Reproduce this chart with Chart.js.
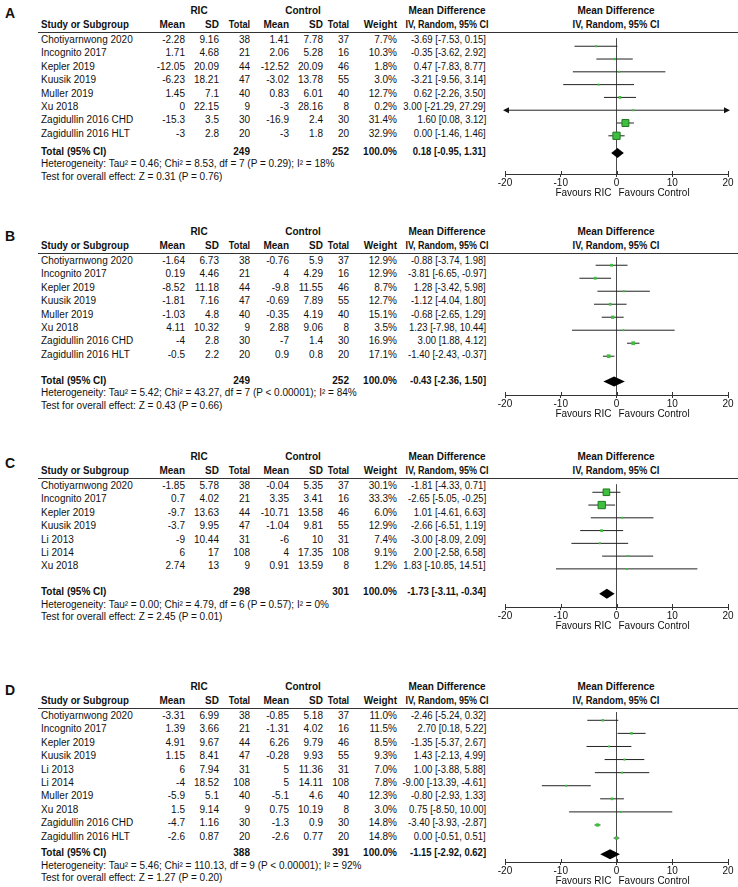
<!DOCTYPE html>
<html>
<head>
<meta charset="utf-8">
<script src="https://cdn.jsdelivr.net/npm/chart.js@4.4.1/dist/chart.umd.min.js"></script>
<style>
    body { margin: 0; background: #fff; }
    #page { position: relative; width: 738px; height: 887px; overflow: hidden; font-family: "Liberation Sans", Arial, sans-serif; font-size: 10px; color: #111; }
    .t { position: absolute; white-space: nowrap; line-height: 12px; height: 12px; }
    .b { font-weight: bold; }
    .letter { position: absolute; font-weight: bold; font-size: 14px; line-height: 14px; }
    .rule { position: absolute; height: 1px; background: #333; }
    canvas { position: absolute; }
</style>
</head>
<body>
<div id="page"></div>
<script>
// ---- Panel A ----
const studiesA = ['Chotiyarnwong 2020', 'Incognito 2017', 'Kepler 2019', 'Kuusik 2019', 'Muller 2019', 'Xu 2018', 'Zagidullin 2016 CHD', 'Zagidullin 2016 HLT'];
const ricMeanA = [-2.28, 1.71, -12.05, -6.23, 1.45, 0, -15.3, -3];
const ricSdA = [9.16, 4.68, 20.09, 18.21, 7.1, 22.15, 3.5, 2.8];
const ricNA = [38, 21, 44, 47, 40, 9, 30, 20];
const ctlMeanA = [1.41, 2.06, -12.52, -3.02, 0.83, -3, -16.9, -3];
const ctlSdA = [7.78, 5.28, 20.09, 13.78, 6.01, 28.16, 2.4, 1.8];
const ctlNA = [37, 16, 46, 55, 40, 8, 30, 20];
const weightA = [7.7, 10.3, 1.8, 3.0, 12.7, 0.2, 31.4, 32.9];
const mdA = [-3.69, -0.35, 0.47, -3.21, 0.62, 3.00, 1.60, 0.00];
const loA = [-7.53, -3.62, -7.83, -9.56, -2.26, -21.29, 0.08, -1.46];
const hiA = [0.15, 2.92, 8.77, 3.14, 3.50, 27.29, 3.12, 1.46];
const pooledA = [0.18, -0.95, 1.31];
const totalsA = [249, 252];

// ---- Panel B ----
const studiesB = studiesA;
const ricMeanB = [-1.64, 0.19, -8.52, -1.81, -1.03, 4.11, -4, -0.5];
const ricSdB = [6.73, 4.46, 11.18, 7.16, 4.8, 10.32, 2.8, 2.2];
const ricNB = [38, 21, 44, 47, 40, 9, 30, 20];
const ctlMeanB = [-0.76, 4, -9.8, -0.69, -0.35, 2.88, -7, 0.9];
const ctlSdB = [5.9, 4.29, 11.55, 7.89, 4.19, 9.06, 1.4, 0.8];
const ctlNB = [37, 16, 46, 55, 40, 8, 30, 20];
const weightB = [12.9, 12.9, 8.7, 12.7, 15.1, 3.5, 16.9, 17.1];
const mdB = [-0.88, -3.81, 1.28, -1.12, -0.68, 1.23, 3.00, -1.40];
const loB = [-3.74, -6.65, -3.42, -4.04, -2.65, -7.98, 1.88, -2.43];
const hiB = [1.98, -0.97, 5.98, 1.80, 1.29, 10.44, 4.12, -0.37];
const pooledB = [-0.43, -2.36, 1.50];
const totalsB = [249, 252];

// ---- Panel C ----
const studiesC = ['Chotiyarnwong 2020', 'Incognito 2017', 'Kepler 2019', 'Kuusik 2019', 'Li 2013', 'Li 2014', 'Xu 2018'];
const ricMeanC = [-1.85, 0.7, -9.7, -3.7, -9, 6, 2.74];
const ricSdC = [5.78, 4.02, 13.63, 9.95, 10.44, 17, 13];
const ricNC = [38, 21, 44, 47, 31, 108, 9];
const ctlMeanC = [-0.04, 3.35, -10.71, -1.04, -6, 4, 0.91];
const ctlSdC = [5.35, 3.41, 13.58, 9.81, 10, 17.35, 13.59];
const ctlNC = [37, 16, 46, 55, 31, 108, 8];
const weightC = [30.1, 33.3, 6.0, 12.9, 7.4, 9.1, 1.2];
const mdC = [-1.81, -2.65, 1.01, -2.66, -3.00, 2.00, 1.83];
const loC = [-4.33, -5.05, -4.61, -6.51, -8.09, -2.58, -10.85];
const hiC = [0.71, -0.25, 6.63, 1.19, 2.09, 6.58, 14.51];
const pooledC = [-1.73, -3.11, -0.34];
const totalsC = [298, 301];

// ---- Panel D ----
const studiesD = ['Chotiyarnwong 2020', 'Incognito 2017', 'Kepler 2019', 'Kuusik 2019', 'Li 2013', 'Li 2014', 'Muller 2019', 'Xu 2018', 'Zagidullin 2016 CHD', 'Zagidullin 2016 HLT'];
const ricMeanD = [-3.31, 1.39, 4.91, 1.15, 6, -4, -5.9, 1.5, -4.7, -2.6];
const ricSdD = [6.99, 3.66, 9.67, 8.41, 7.94, 18.52, 5.1, 9.14, 1.16, 0.87];
const ricND = [38, 21, 44, 47, 31, 108, 40, 9, 30, 20];
const ctlMeanD = [-0.85, -1.31, 6.26, -0.28, 5, 5, -5.1, 0.75, -1.3, -2.6];
const ctlSdD = [5.18, 4.02, 9.79, 9.93, 11.36, 14.11, 4.6, 10.19, 0.9, 0.77];
const ctlND = [37, 16, 46, 55, 31, 108, 40, 8, 30, 20];
const weightD = [11.0, 11.5, 8.5, 9.3, 7.0, 7.8, 12.3, 3.0, 14.8, 14.8];
const mdD = [-2.46, 2.70, -1.35, 1.43, 1.00, -9.00, -0.80, 0.75, -3.40, 0.00];
const loD = [-5.24, 0.18, -5.37, -2.13, -3.88, -13.39, -2.93, -8.50, -3.93, -0.51];
const hiD = [0.32, 5.22, 2.67, 4.99, 5.88, -4.61, 1.33, 10.00, -2.87, 0.51];
const pooledD = [-1.15, -2.92, 0.62];
const totalsD = [388, 391];

const xTicks = [-20, -10, 0, 10, 20];

const panels = [
    { letter: 'A', top: 11, letterY: 13, totalGap: 18, axisGap: 22, studies: studiesA, ricMean: ricMeanA, ricSd: ricSdA, ricN: ricNA, ctlMean: ctlMeanA, ctlSd: ctlSdA, ctlN: ctlNA, weight: weightA, md: mdA, lo: loA, hi: hiA, pooled: pooledA, totals: totalsA,
      het: 'Heterogeneity: Tau² = 0.46; Chi² = 8.53, df = 7 (P = 0.29); I² = 18%', test: 'Test for overall effect: Z = 0.31 (P = 0.76)' },
    { letter: 'B', top: 232, letterY: 236, totalGap: 26, axisGap: 14, studies: studiesB, ricMean: ricMeanB, ricSd: ricSdB, ricN: ricNB, ctlMean: ctlMeanB, ctlSd: ctlSdB, ctlN: ctlNB, weight: weightB, md: mdB, lo: loB, hi: hiB, pooled: pooledB, totals: totalsB,
      het: 'Heterogeneity: Tau² = 5.42; Chi² = 43.27, df = 7 (P < 0.00001); I² = 84%', test: 'Test for overall effect: Z = 0.43 (P = 0.66)' },
    { letter: 'C', top: 457, letterY: 463, totalGap: 26, axisGap: 14, studies: studiesC, ricMean: ricMeanC, ricSd: ricSdC, ricN: ricNC, ctlMean: ctlMeanC, ctlSd: ctlSdC, ctlN: ctlNC, weight: weightC, md: mdC, lo: loC, hi: hiC, pooled: pooledC, totals: totalsC,
      het: 'Heterogeneity: Tau² = 0.00; Chi² = 4.79, df = 6 (P = 0.57); I² = 0%', test: 'Test for overall effect: Z = 2.45 (P = 0.01)' },
    { letter: 'D', top: 687, letterY: 690, totalGap: 16.5, axisGap: 8, studies: studiesD, ricMean: ricMeanD, ricSd: ricSdD, ricN: ricND, ctlMean: ctlMeanD, ctlSd: ctlSdD, ctlN: ctlND, weight: weightD, md: mdD, lo: loD, hi: hiD, pooled: pooledD, totals: totalsD,
      het: 'Heterogeneity: Tau² = 5.46; Chi² = 110.13, df = 9 (P < 0.00001); I² = 92%', test: 'Test for overall effect: Z = 1.27 (P = 0.20)' }
];

const PITCH = 13.4;      // row spacing
const FIRST = 29;        // header row 1 -> first study row
const LINE = 20.5;       // header row 1 -> rule
const FONT = '"Liberation Sans", Arial, sans-serif';
const page = document.getElementById('page');

function txt(s, x, y, align, bold, sx) {
    const el = document.createElement('div');
    el.className = 't' + (bold ? ' b' : '');
    el.textContent = s;
    el.style.top = (y - 6) + 'px';
    let tf = '';
    if (align === 'right') { el.style.right = (738 - x) + 'px'; el.style.transformOrigin = 'right center'; }
    else if (align === 'center') { el.style.left = x + 'px'; tf = 'translateX(-50%) '; el.style.transformOrigin = 'left center'; }
    else { el.style.left = x + 'px'; el.style.transformOrigin = 'left center'; }
    if (sx) {
        if (align === 'center') { el.style.transformOrigin = '0 50%'; tf = `scaleX(${sx}) translateX(-50%)`; }
        else tf += `scaleX(${sx})`;
    }
    if (tf) el.style.transform = tf;
    page.appendChild(el);
}

const ci = (m, l, h) => `${m.toFixed(2)} [${l.toFixed(2)}, ${h.toFixed(2)}]`;

function forestPlugin(p, totalRow) {
    return {
        id: 'forestExtras',
        afterDatasetsDraw(chart) {
            const { ctx, chartArea: a, scales: { x, y } } = chart;
            ctx.save();
            ctx.fillStyle = '#111';
            // arrows where the CI runs off the scale
            p.lo.forEach((lo, i) => {
                const yy = y.getPixelForValue(i);
                if (lo < x.min) {
                    ctx.beginPath(); ctx.moveTo(a.left - 2, yy); ctx.lineTo(a.left + 4, yy - 3); ctx.lineTo(a.left + 4, yy + 3); ctx.closePath(); ctx.fill();
                }
                if (p.hi[i] > x.max) {
                    ctx.beginPath(); ctx.moveTo(a.right + 2, yy); ctx.lineTo(a.right - 4, yy - 3); ctx.lineTo(a.right - 4, yy + 3); ctx.closePath(); ctx.fill();
                }
            });
            // pooled diamond
            const [est, plo, phi] = p.pooled;
            const yy = y.getPixelForValue(totalRow);
            ctx.fillStyle = '#000';
            ctx.beginPath();
            ctx.moveTo(x.getPixelForValue(plo), yy);
            ctx.lineTo(x.getPixelForValue(est), yy - 5);
            ctx.lineTo(x.getPixelForValue(phi), yy);
            ctx.lineTo(x.getPixelForValue(est), yy + 5);
            ctx.closePath();
            ctx.fill();
            // small upward ticks on the axis
            ctx.strokeStyle = '#333';
            ctx.lineWidth = 1;
            xTicks.forEach(v => {
                const px = Math.round(x.getPixelForValue(v)) + 0.5;
                ctx.beginPath(); ctx.moveTo(px, a.bottom - 3); ctx.lineTo(px, a.bottom); ctx.stroke();
            });
            // favours labels
            const x0 = x.getPixelForValue(0);
            ctx.font = '10px ' + FONT;
            ctx.fillStyle = '#111';
            ctx.textBaseline = 'middle';
            ctx.textAlign = 'right';
            ctx.fillText('Favours RIC', x0 - 5, a.bottom + 19);
            ctx.textAlign = 'left';
            ctx.fillText('Favours Control', x0 + 2, a.bottom + 19);
            ctx.restore();
        }
    };
}

function buildPanel(p) {
    const t = p.top;
    const n = p.studies.length;
    const rowY = i => t + FIRST + i * PITCH;
    const totalY = rowY(n - 1) + p.totalGap;

    const L = document.createElement('div');
    L.className = 'letter';
    L.textContent = p.letter;
    L.style.left = '5px';
    L.style.top = (p.letterY - 7) + 'px';
    page.appendChild(L);

    // header rows
    txt('RIC', 199, t, 'center', true);
    txt('Control', 303, t, 'center', true);
    txt('Mean Difference', 447, t, 'center', true);
    txt('Mean Difference', 616, t, 'center', true);
    const h2 = t + 14;
    txt('Study or Subgroup', 41, h2, 'left', true, 0.97);
    txt('Mean', 185, h2, 'right', true);
    txt('SD', 219, h2, 'right', true);
    txt('Total', 250, h2, 'right', true, 0.92);
    txt('Mean', 289, h2, 'right', true);
    txt('SD', 323, h2, 'right', true);
    txt('Total', 349, h2, 'right', true, 0.92);
    txt('Weight', 397, h2, 'right', true);
    txt('IV, Random, 95% CI', 447, h2, 'center', true, 0.9);
    txt('IV, Random, 95% CI', 616, h2, 'center', true, 0.94);

    const rule = document.createElement('div');
    rule.className = 'rule';
    rule.style.left = '38px';
    rule.style.width = '700px';
    rule.style.top = Math.round(t + LINE) + 'px';
    page.appendChild(rule);

    p.studies.forEach((s, i) => {
        const y = rowY(i);
        txt(s, 41, y, 'left');
        txt(String(p.ricMean[i]), 185, y, 'right');
        txt(String(p.ricSd[i]), 219, y, 'right');
        txt(String(p.ricN[i]), 250, y, 'right');
        txt(String(p.ctlMean[i]), 289, y, 'right');
        txt(String(p.ctlSd[i]), 323, y, 'right');
        txt(String(p.ctlN[i]), 349, y, 'right');
        txt(p.weight[i].toFixed(1) + '%', 397, y, 'right');
        txt(ci(p.md[i], p.lo[i], p.hi[i]), 486, y, 'right', false, 0.95);
    });

    txt('Total (95% CI)', 41, totalY, 'left', true);
    txt(String(p.totals[0]), 250, totalY, 'right', true);
    txt(String(p.totals[1]), 349, totalY, 'right', true);
    txt('100.0%', 397, totalY, 'right', true);
    txt(ci(p.pooled[0], p.pooled[1], p.pooled[2]), 486, totalY, 'right', true, 0.95);
    txt(p.het, 41, totalY + 12.5, 'left');
    txt(p.test, 41, totalY + 25, 'left');

    // forest plot
    const totalRow = (totalY - rowY(0)) / PITCH;
    const axisRow = totalRow + p.axisGap / PITCH;
    const yMin = -(FIRST - LINE) / PITCH;
    const plotH = Math.round((axisRow - yMin) * PITCH);
    const AX_H = 28;

    const cv = document.createElement('canvas');
    cv.width = 243;
    cv.height = plotH + AX_H;
    cv.style.left = '495px';
    cv.style.top = Math.round(t + LINE) + 'px';
    page.appendChild(cv);

    const ciSets = p.lo.map((lo, i) => ({
        type: 'scatter', showLine: true, order: 2,
        data: [{ x: Math.max(lo, -20), y: i }, { x: Math.min(p.hi[i], 20), y: i }],
        borderColor: '#222', borderWidth: 1, pointRadius: 0
    }));

    new Chart(cv.getContext('2d'), {
        type: 'scatter',
        data: {
            datasets: [{
                order: 0,
                data: p.md.map((m, i) => ({ x: m, y: i })),
                pointStyle: 'rect',
                pointRadius: p.weight.map(w => Math.max(2, w * 0.22) / Math.SQRT2),
                backgroundColor: '#3fbf3f',
                borderColor: '#1d7a1d',
                borderWidth: p.weight.map(w => w > 20 ? 1 : 0)
            }, ...ciSets]
        },
        options: {
            responsive: false, animation: false,
            layout: { padding: { left: 10, right: 10, top: 0, bottom: 0 } },
            plugins: { legend: { display: false }, tooltip: { enabled: false } },
            scales: {
                x: {
                    type: 'linear', min: -20, max: 20,
                    afterBuildTicks: s => { s.ticks = xTicks.map(v => ({ value: v })); },
                    ticks: { color: '#111', font: { family: FONT, size: 10 }, padding: 0, maxRotation: 0, autoSkip: false },
                    grid: { color: c => (c.tick && c.tick.value === 0) ? '#4a4a4a' : 'rgba(0,0,0,0)', lineWidth: 1, tickLength: 3, tickColor: '#333', tickWidth: 1 },
                    border: { color: '#333', width: 1 },
                    afterFit: s => { s.height = AX_H; }
                },
                y: { type: 'linear', display: false, reverse: true, min: yMin, max: axisRow }
            }
        },
        plugins: [forestPlugin(p, totalRow)]
    });
}

panels.forEach(buildPanel);
</script>
</body>
</html>
